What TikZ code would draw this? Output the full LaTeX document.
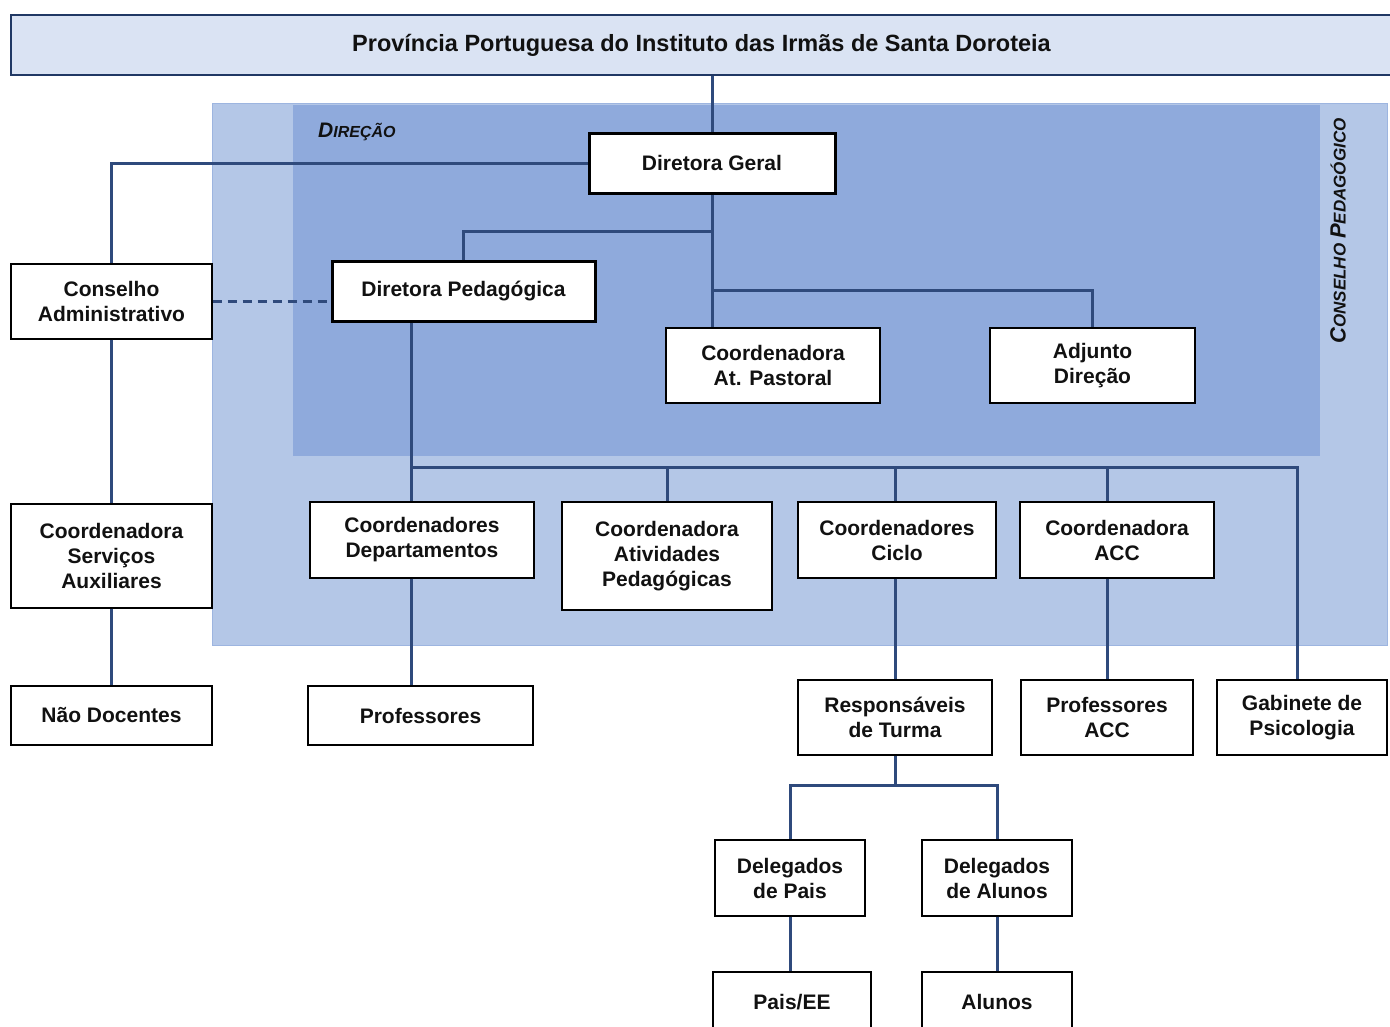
\documentclass[tikz,border=0pt]{standalone}
\usepackage{fontspec}
\setmainfont{Liberation Sans}
\usetikzlibrary{calc}
\definecolor{navy}{HTML}{2F4A7C}
\definecolor{titlefill}{HTML}{DAE3F3}
\definecolor{titleline}{HTML}{203864}
\definecolor{outerfill}{HTML}{B4C7E7}
\definecolor{outerline}{HTML}{9DB5E0}
\definecolor{innerfill}{HTML}{8FAADC}
\definecolor{txt}{HTML}{111111}
\begin{document}
\begin{tikzpicture}[x=1pt,y=-1pt,
  box/.style={draw=black, line width=1.2pt, fill=white, align=center, inner sep=0pt, text=txt,
    font=\bfseries\fontsize{21}{25}\selectfont},
  thickbox/.style={box, line width=3pt},
  conn/.style={draw=navy, line width=3pt},
  region/.style={line width=1pt}]
\useasboundingbox (0,0) rectangle (1390,1026);
\clip (0,0) rectangle (1390,1026);
% regions
\path[region, fill=outerfill, draw=outerline] (212,103) rectangle (1387,645);
\path[fill=innerfill] (293,105) rectangle (1320,456);
\node[anchor=west, text=txt, inner sep=0pt] (dirlabel) at (318,132)
  {\bfseries\itshape\fontsize{21}{21}\selectfont D\fontsize{16}{16}\selectfont IREÇÃO};
\node[rotate=90, text=txt, inner sep=0pt] (cplabel) at (1338,231)
  {\bfseries\itshape\fontsize{22}{22}\selectfont C\fontsize{17}{17}\selectfont ONSELHO \fontsize{22}{22}\selectfont P\fontsize{17}{17}\selectfont EDAGÓGICO};
% title
\node[draw=titleline, line width=2.5pt, fill=titlefill, minimum width=1381, minimum height=60, inner sep=0pt,
  text=txt, font=\bfseries\fontsize{23.5}{26}\selectfont] (title) at (701.5,45)
  {Província Portuguesa do Instituto das Irmãs de Santa Doroteia};
% boxes
\node[thickbox, minimum width=246, minimum height=60] (dg) at (712,163) {Diretora Geral};
\node[thickbox, minimum width=263, minimum height=60] (dp) at (463.5,291) {Diretora Pedagógica};
\node[box, minimum width=201, minimum height=75] (ca) at (111.5,301.5) {Conselho\\Administrativo};
\node[box, minimum width=214, minimum height=75] (ap) at (773,365.5) {Coordenadora\\At. Pastoral};
\node[box, minimum width=205, minimum height=75] (adj) at (1092.5,365.5) {Adjunto\\Direção};
\node[box, minimum width=201, minimum height=104] (csa) at (111.5,556) {Coordenadora\\Serviços\\Auxiliares};
\node[box, minimum width=201, minimum height=59] (nd) at (111.5,715.5) {Não Docentes};
\node[box, minimum width=224, minimum height=76] (cd) at (422,540) {Coordenadores\\Departamentos};
\node[box, minimum width=210, minimum height=108] (cap) at (667,556) {Coordenadora\\Atividades\\Pedagógicas};
\node[box, minimum width=198, minimum height=76] (cc) at (897,540) {Coordenadores\\Ciclo};
\node[box, minimum width=194, minimum height=76] (cacc) at (1117,540) {Coordenadora\\ACC};
\node[box, minimum width=225, minimum height=59] (prof) at (420.5,715.5) {Professores};
\node[box, minimum width=194, minimum height=75] (rt) at (895,717.5) {Responsáveis\\de Turma};
\node[box, minimum width=172, minimum height=75] (pacc) at (1107,717.5) {Professores\\ACC};
\node[box, minimum width=170, minimum height=75] (gp) at (1302,717.5) {Gabinete de\\Psicologia};
\node[box, minimum width=150, minimum height=76] (dpais) at (790,878) {Delegados\\de Pais};
\node[box, minimum width=150, minimum height=76] (dal) at (997,878) {Delegados\\de Alunos};
\node[box, minimum width=158, minimum height=60] (pee) at (792,1002) {Pais/EE};
\node[box, minimum width=150, minimum height=60] (al) at (997,1002) {Alunos};
% junction coordinates
\coordinate (jA) at (712,290);
\coordinate (jB) at (712,231);
\coordinate (bus) at (411,467);
\coordinate (busR) at (1297,467);
\coordinate (jC) at (895,785);
% connectors
\draw[conn] (title.south -| dg.north) -- (dg.north);
\draw[conn] (dg.west) -| (ca.north);
\draw[conn] (dg.south) -- (dg.south |- ap.north);
\draw[conn] (jA) -| (adj.north);
\draw[conn] (jB) -| (dp.north);
\draw[conn, dashed, dash pattern=on 9pt off 6pt] (ca.east) -- (ca.east -| dp.west);
\draw[conn] (ca.south) -- (csa.north);
\draw[conn] (csa.south) -- (nd.north);
\draw[conn] (dp.south -| bus) -- (cd.north -| bus);
\draw[conn] (bus) -- (busR) -- (gp.north -| busR);
\draw[conn] (bus -| cap.north) -- (cap.north);
\draw[conn] (bus -| rt.north) -- (cc.north -| rt.north);
\draw[conn] (bus -| pacc.north) -- (cacc.north -| pacc.north);
\draw[conn] (cd.south -| bus) -- (prof.north -| bus);
\draw[conn] (cc.south -| rt.north) -- (rt.north);
\draw[conn] (cacc.south -| pacc.north) -- (pacc.north);
\draw[conn] (rt.south) -- (jC);
\draw[conn] (jC) -| (dpais.north);
\draw[conn] (jC) -| (dal.north);
\draw[conn] (dpais.south) -- (dpais.south |- pee.north);
\draw[conn] (dal.south) -- (al.north);
\end{tikzpicture}
\end{document}
